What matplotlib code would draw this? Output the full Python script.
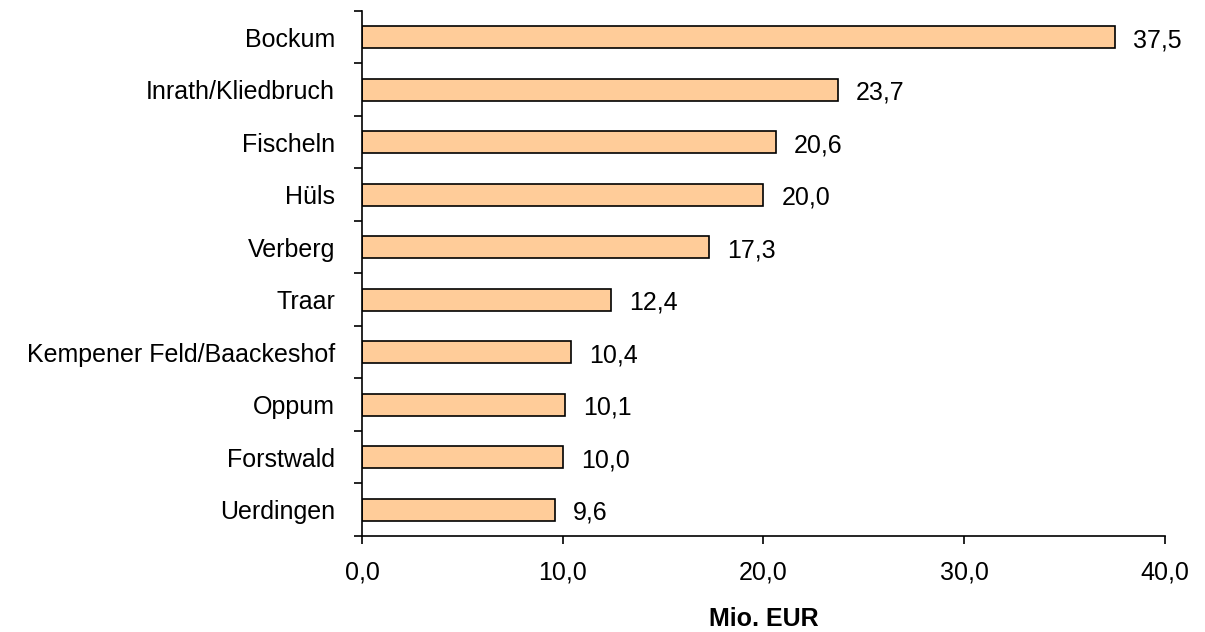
import matplotlib
matplotlib.use("Agg")
import matplotlib.pyplot as plt
from matplotlib.ticker import FixedLocator, FuncFormatter

categories = ["Bockum", "Inrath/Kliedbruch", "Fischeln", "Hüls", "Verberg", "Traar",
              "Kempener Feld/Baackeshof", "Oppum", "Forstwald", "Uerdingen"]
values = [37.5, 23.7, 20.6, 20.0, 17.3, 12.4, 10.4, 10.1, 10.0, 9.6]
xticks = [0, 10, 20, 30, 40]

plt.rcParams['font.family'] = ['Liberation Sans', 'DejaVu Sans']
FS = 18

fig = plt.figure(figsize=(12.05, 6.32), dpi=100)
ax = fig.add_axes([0.3004, 0.1519, 0.6664, 0.8307])

n = len(categories)
pos = list(range(n - 1, -1, -1))
ax.barh(pos, values, height=0.42, color="#FFCC99", edgecolor="black", linewidth=1.2)

for p, v in zip(pos, values):
    ax.annotate(f"{v:.1f}".replace(".", ","), xy=(v, p), xytext=(13, -2),
                textcoords="offset points", va="center", ha="left", fontsize=FS)

ax.set_xlim(0, 40)
ax.set_ylim(-0.5, n - 0.5)
ax.set_xticks(xticks)
ax.xaxis.set_major_formatter(FuncFormatter(lambda x, _: f"{x:.1f}".replace(".", ",")))
ax.set_yticks(pos)
ax.set_yticklabels(categories)
ax.yaxis.set_minor_locator(FixedLocator([i - 0.5 for i in range(n + 1)]))

ax.tick_params(axis="y", which="major", length=0, pad=19.5, labelsize=FS)
ax.tick_params(axis="y", which="minor", length=5.8, width=1.2, direction="out")
ax.tick_params(axis="x", which="major", length=5.8, width=1.2, direction="out", pad=12, labelsize=FS)

for s in ["top", "right"]:
    ax.spines[s].set_visible(False)
for s in ["left", "bottom"]:
    ax.spines[s].set_linewidth(1.2)

ax.set_xlabel("Mio. EUR", fontsize=FS, fontweight="bold", labelpad=16)

fig.savefig("out.png", dpi=100)
